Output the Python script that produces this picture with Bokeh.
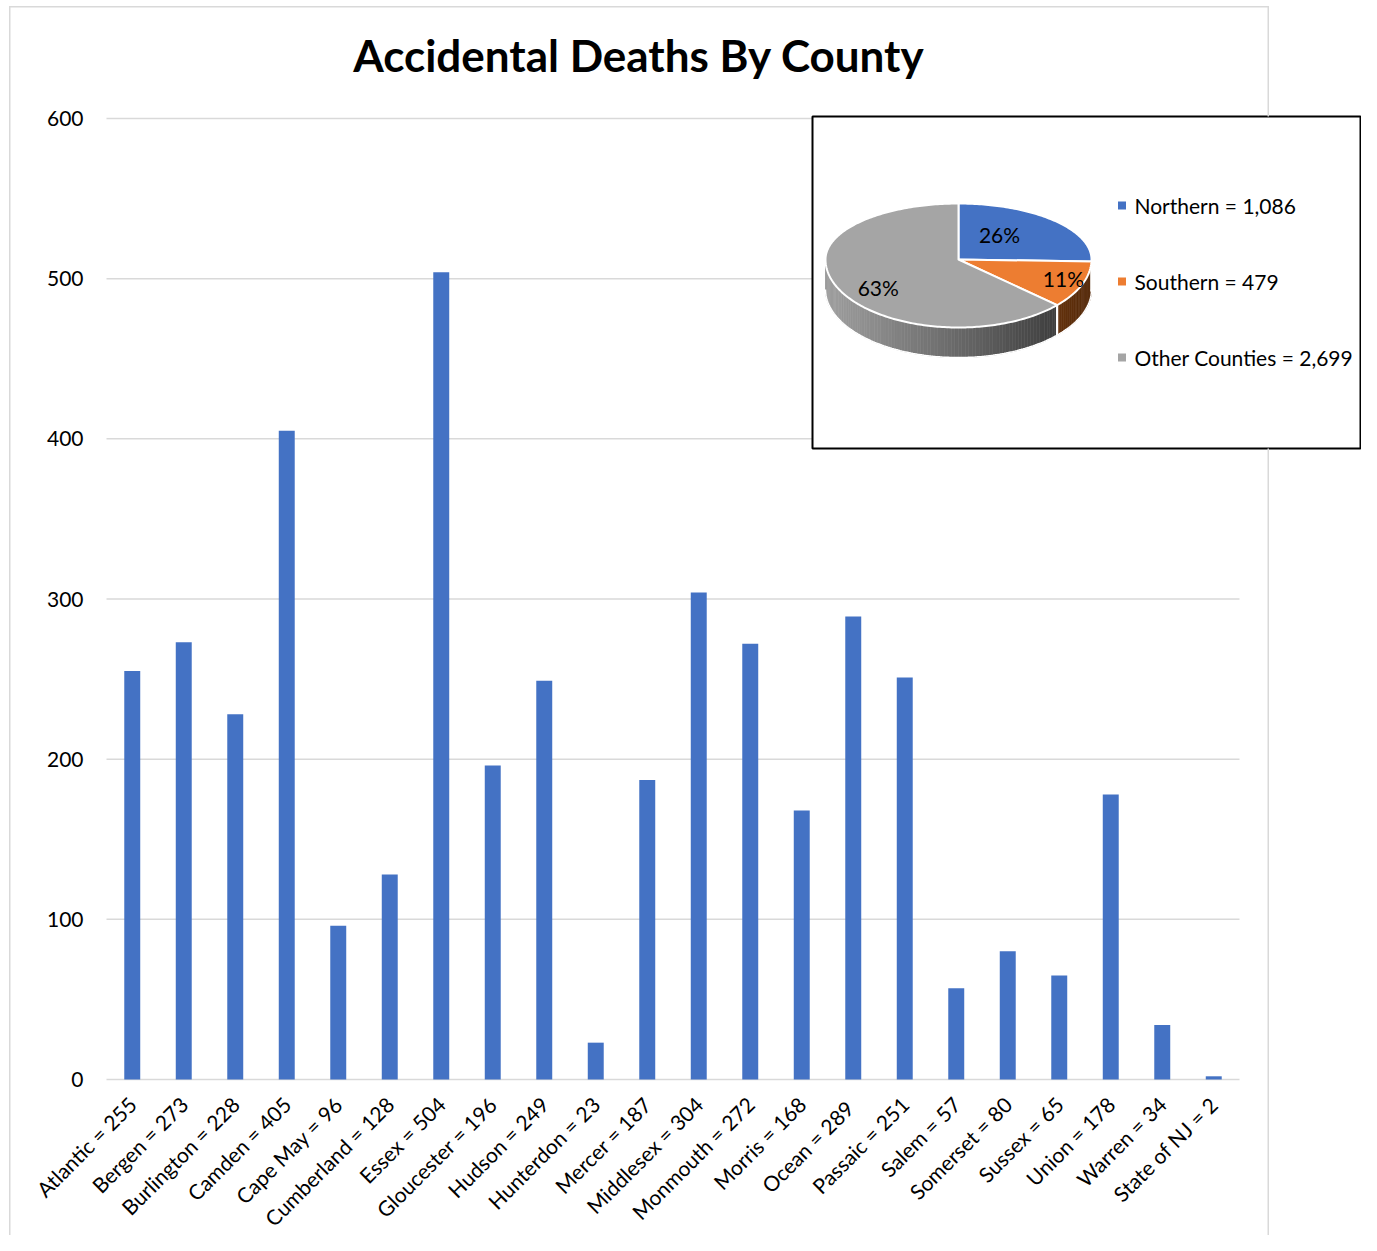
import math
from bokeh.plotting import figure
from bokeh.models import Range1d, FixedTicker, BoxAnnotation, Label
from bokeh.core.properties import value
from bokeh.embed import file_html
from bokeh.resources import INLINE

# ---------------- data ----------------
counties = ["Atlantic", "Bergen", "Burlington", "Camden", "Cape May", "Cumberland",
            "Essex", "Gloucester", "Hudson", "Hunterdon", "Mercer", "Middlesex",
            "Monmouth", "Morris", "Ocean", "Passaic", "Salem", "Somerset", "Sussex",
            "Union", "Warren", "State of NJ"]
deaths = [255, 273, 228, 405, 96, 128, 504, 196, 249, 23, 187, 304,
          272, 168, 289, 251, 57, 80, 65, 178, 34, 2]
tick_labels = ["Atlantic = 255", "Bergen = 273", "Burlington = 228", "Camden = 405",
               "Cape May = 96", "Cumberland = 128", "Essex = 504", "Gloucester = 196",
               "Hudson = 249", "Hunterdon = 23", "Mercer = 187", "Middlesex = 304",
               "Monmouth = 272", "Morris = 168", "Ocean =  289", "Passaic = 251",
               "Salem = 57", "Somerset = 80", "Sussex = 65", "Union = 178",
               "Warren = 34", "State of NJ = 2"]
y_ticks = [0, 100, 200, 300, 400, 500, 600]

regions = ["Northern", "Southern", "Other Counties"]
region_totals = [1086, 479, 2699]
region_colors = ["#4472C4", "#ED7D31", "#A5A5A5"]

title_text = "Accidental Deaths By County"

# ---------------- layout constants (canvas pixels) ----------------
W, H = 1361, 1235
FRAME_L, FRAME_R, FRAME_T, FRAME_B = 0, 1361, 0, 1235
PLOT_L = 106                  # pixel column where the category axis starts
ZERO_Y = 1079                 # pixel row of value 0
CAT_W = 51.5
PX_PER_UNIT = 961 / 600.0

n = len(counties)
x0 = 0.5 - (PLOT_L - FRAME_L) / CAT_W
p = figure(width=W, height=H, output_backend="svg", toolbar_location=None,
           x_range=Range1d(x0, x0 + (FRAME_R - FRAME_L) / CAT_W),
           y_range=Range1d(-(FRAME_B - ZERO_Y) / PX_PER_UNIT, (ZERO_Y - FRAME_T) / PX_PER_UNIT),
           min_border_left=0, min_border_right=0, min_border_top=0, min_border_bottom=0)
p.extra_x_ranges = {"px": Range1d(FRAME_L, FRAME_R)}
p.extra_y_ranges = {"py": Range1d(FRAME_B, FRAME_T)}
p.outline_line_color = None
p.grid.visible = False
p.background_fill_color = "white"
p.border_fill_color = "white"

# y axis (labels placed inside, right-aligned at x = 83 px)
ya = p.yaxis[0]
ya.ticker = FixedTicker(ticks=y_ticks)
ya.axis_line_color = None
ya.major_tick_line_color = None
ya.minor_tick_line_color = None
ya.major_tick_out = 0
ya.major_tick_in = 0
ya.major_label_standoff = -83
ya.major_label_text_font = "Lato"
ya.major_label_text_font_size = "21px"
ya.major_label_text_color = "#000000"

xs_pos = list(range(1, n + 1))
p.xaxis.visible = False

# chart outline
for l, r, t, b in [(8.5, 10, 5.5, 1300), (9, 1268.5, 5.5, 7),
                   (1267, 1268.5, 5.5, 116), (1267, 1268.5, 448, 1300)]:
    p.add_layout(BoxAnnotation(left=l, right=r, top=t, bottom=b,
                               x_range_name="px", y_range_name="py",
                               fill_color="#d9d9d9", fill_alpha=1,
                               line_color=None, level="annotation"))

# gridlines + baseline
p.segment(x0=[0.5] * len(y_ticks), x1=[n + 0.5] * len(y_ticks), y0=y_ticks, y1=y_ticks,
          line_color="#d9d9d9", line_width=1.5)

# bars
p.vbar(x=xs_pos, top=deaths, width=0.31, fill_color="#4472C4", line_color=None)

# category labels
p.text(x=xs_pos, y=[ZERO_Y + 21] * n, text=tick_labels, angle=math.pi / 4,
       text_font=value("Lato"), text_font_size="21px", text_align="right",
       text_baseline="middle", text_color="#000000", y_range_name="py")

# title
p.add_layout(Label(x=638.5, y=54, x_range_name="px", y_range_name="py",
                   text=title_text, text_align="center", text_baseline="middle",
                   text_font="Lato", text_font_size="44px", text_font_style="bold",
                   text_color="#000000"))

# ---------------- inset pie ----------------
p.quad(left=812, right=1360, top=116, bottom=448, x_range_name="px", y_range_name="py",
       fill_color="white", line_color="black", line_width=2)

total = sum(region_totals)
fracs = [v / total for v in region_totals]
raw = [f * 100 for f in fracs]
pcts = [int(math.floor(r)) for r in raw]
order = sorted(range(len(raw)), key=lambda i: raw[i] - pcts[i], reverse=True)
for i in order[:100 - sum(pcts)]:
    pcts[i] += 1

cx, cy, rx, ry_top, ry_bot, depth = 958, 259, 133, 56, 68, 30


def ell(deg, dy=0.0):
    t = math.radians(deg)
    c = math.cos(t)
    ry = ry_top if c >= 0 else ry_bot
    return cx + rx * math.sin(t), cy - ry * c + dy


def hex2rgb(h):
    h = h.lstrip("#")
    return [int(h[i:i + 2], 16) for i in (0, 2, 4)]


def lerp(c0, c1, f):
    a, b = hex2rgb(c0), hex2rgb(c1)
    f = min(max(f, 0.0), 1.0)
    return "#%02x%02x%02x" % tuple(int(round(a[k] + (b[k] - a[k]) * f)) for k in range(3))


side_light = ["#3a5da0", "#c0682a", "#a0a0a0"]
side_dark = ["#1c3462", "#552a0a", "#303030"]

angles = []
acc = 0.0
for f in fracs:
    angles.append((acc * 360, (acc + f) * 360))
    acc += f

sx, sy, sc = [], [], []
for i, (a0, a1) in enumerate(angles):
    lo, hi = max(a0, 90), min(a1, 270)
    if hi <= lo:
        continue
    m = max(1, int((hi - lo) / 1.5) + 1)
    for k in range(m):
        t0 = lo + (hi - lo) * k / m
        t1 = lo + (hi - lo) * (k + 1) / m
        p0, p1 = ell(t0), ell(t1)
        sx.append([p0[0], p1[0], p1[0], p0[0]])
        sy.append([p0[1], p1[1], p1[1] + depth, p0[1] + depth])
        xm = (p0[0] + p1[0]) / 2
        sc.append(lerp(side_light[i], side_dark[i], (xm - (cx - rx)) / (2 * rx)))
p.patches(xs=sx, ys=sy, fill_color=sc, line_color=sc, line_width=0.6,
          x_range_name="px", y_range_name="py")

bt = [90 + k for k in range(0, 181)]
p.line(x=[ell(t, depth)[0] for t in bt], y=[ell(t, depth)[1] for t in bt],
       line_color="#ffffff", line_width=1.5, x_range_name="px", y_range_name="py")

for (a0, a1) in angles:
    for a in (a0, a1):
        if 90 < a < 270:
            q = ell(a)
            p.line(x=[q[0], q[0]], y=[q[1], q[1] + depth], line_color="white",
                   line_width=2, x_range_name="px", y_range_name="py")

tx, ty = [], []
for (a0, a1) in angles:
    m = max(2, int((a1 - a0) / 1.0) + 1)
    pts = [ell(a0 + (a1 - a0) * k / m) for k in range(m + 1)]
    tx.append([cx] + [q[0] for q in pts])
    ty.append([cy] + [q[1] for q in pts])
p.patches(xs=tx, ys=ty, fill_color=region_colors, line_color="white", line_width=2,
          line_join="round", x_range_name="px", y_range_name="py")

label_fx = [0.43, 0.85, 0.66]
label_fy = [0.65, 0.74, 1.0]
lx, ly = [], []
for (a0, a1), fx, fy in zip(angles, label_fx, label_fy):
    am = math.radians((a0 + a1) / 2)
    c = math.cos(am)
    ry = ry_top if c >= 0 else ry_bot
    lx.append(cx + fx * rx * math.sin(am))
    ly.append(cy - fy * ry * c)
p.text(x=lx, y=ly, text=[f"{v}%" for v in pcts], text_font=value("Lato"),
       text_font_size="21px", text_align="center", text_baseline="middle",
       text_color="#000000", x_range_name="px", y_range_name="py")

leg_y = [205 + 76 * i for i in range(len(regions))]
p.scatter(x=[1121.5] * len(regions), y=leg_y, marker="square", size=8,
          fill_color=region_colors, line_color=None, x_range_name="px", y_range_name="py")
p.text(x=[1134] * len(regions), y=leg_y,
       text=[f"{r} = {v:,}" for r, v in zip(regions, region_totals)],
       text_font=value("Lato"), text_font_size="21px", text_align="left",
       text_baseline="middle", text_color="#000000", x_range_name="px", y_range_name="py")

open("out.html", "w").write(file_html(p, INLINE))
